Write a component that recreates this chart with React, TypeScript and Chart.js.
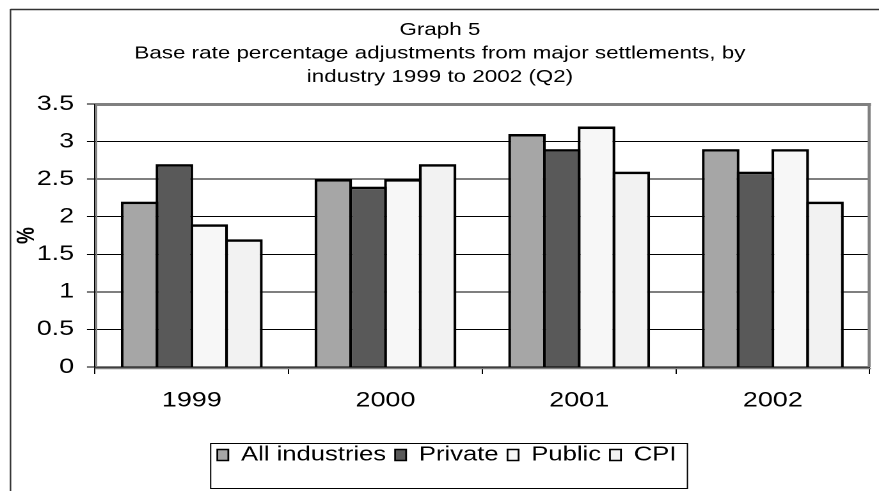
import React, { useEffect, useRef } from 'react';
import { Chart, registerables } from 'chart.js';

Chart.register(...registerables);

const categories = ['1999', '2000', '2001', '2002'];
const seriesNames = ['All industries', 'Private', 'Public', 'CPI'];
const allIndustries = [2.2, 2.5, 3.1, 2.9];
const privateSector = [2.7, 2.4, 2.9, 2.6];
const publicSector = [1.9, 2.5, 3.2, 2.9];
const cpi = [1.7, 2.7, 2.6, 2.2];
const seriesColors = ['#a6a6a6', '#595959', '#f7f7f7', '#f2f2f2'];
const titleLines = [
  'Graph 5',
  'Base rate percentage adjustments from major settlements, by',
  'industry 1999 to 2002 (Q2)',
];
const yAxisTitle = '%';
const yMin = 0;
const yMax = 3.5;
const yStep = 0.5;

const FONT = "'Liberation Sans', Arial, Helvetica, sans-serif";
const LEGEND_FONT_SIZE = 20;
const LEGEND_BOX_W = 8.6;

// The original picture is horizontally stretched; the chart is drawn on a
// narrower canvas and stretched with CSS to the 879px page width.
const CANVAS_W = 687;
const CANVAS_H = 491;
const STRETCH = 879 / CANVAS_W;

const decorPlugin = {
  id: 'decor',
  afterLayout(chart: any) {
    if (chart.legend) {
      chart.legend.left += 9.4;
      chart.legend.right += 9.4;
    }
    if (chart.titleBlock) {
      chart.titleBlock.left += 4;
      chart.titleBlock.right += 4;
    }
  },
  beforeDraw(chart: any) {
    const { ctx } = chart;
    ctx.save();
    ctx.fillStyle = '#ffffff';
    ctx.fillRect(0, 0, chart.width, chart.height);
    ctx.restore();
  },
  beforeDatasetsDraw(chart: any) {
    const { ctx, chartArea: a } = chart;
    ctx.save();
    ctx.strokeStyle = '#808080';
    ctx.lineWidth = 3;
    ctx.beginPath();
    ctx.moveTo(a.left, a.top + 0.5);
    ctx.lineTo(a.right + 1, a.top + 0.5);
    ctx.stroke();
    ctx.lineWidth = 2.3;
    ctx.beginPath();
    ctx.moveTo(a.right - 0.4, a.top - 1);
    ctx.lineTo(a.right - 0.4, a.bottom);
    ctx.stroke();
    ctx.lineWidth = 1.2;
    ctx.beginPath();
    ctx.moveTo(a.left + 1.2, a.top + 2);
    ctx.lineTo(a.left + 1.2, a.bottom);
    ctx.stroke();
    ctx.lineWidth = 1.5;
    ctx.beginPath();
    ctx.moveTo(a.left, a.bottom + 1.5);
    ctx.lineTo(a.right + 1, a.bottom + 1.5);
    ctx.stroke();
    ctx.restore();
  },
  afterDraw(chart: any) {
    const { ctx } = chart;
    ctx.save();
    // outer frame (top and left edges)
    ctx.strokeStyle = '#333333';
    ctx.lineWidth = 1.5;
    ctx.beginPath();
    ctx.moveTo(chart.width + 2, 9.5);
    ctx.lineTo(8.2, 9.5);
    ctx.stroke();
    ctx.lineWidth = 1.2;
    ctx.beginPath();
    ctx.moveTo(8.2, 9);
    ctx.lineTo(8.2, chart.height + 2);
    ctx.stroke();
    // legend border
    const lg = chart.legend;
    if (lg && lg.legendHitBoxes && lg.legendHitBoxes.length && lg.legendItems) {
      const hb = lg.legendHitBoxes;
      const first = hb[0];
      const last = hb[hb.length - 1];
      ctx.font = `${LEGEND_FONT_SIZE}px ${FONT}`;
      const lastText = lg.legendItems[lg.legendItems.length - 1].text;
      const textEnd = last.left + LEGEND_BOX_W + LEGEND_FONT_SIZE / 2 + ctx.measureText(lastText).width;
      const cy = first.top + first.height / 2;
      const x0 = first.left - 5.2;
      const x1 = textEnd + 8.6;
      ctx.strokeStyle = '#000000';
      ctx.lineWidth = 1;
      ctx.strokeRect(x0, Math.round(cy - 12) + 0.5, x1 - x0, 45);
    }
    ctx.restore();
  },
};

export default function App() {
  const canvasRef = useRef<HTMLCanvasElement | null>(null);

  useEffect(() => {
    const canvas = canvasRef.current;
    if (!canvas) return;
    const values = [allIndustries, privateSector, publicSector, cpi];
    const chart = new Chart(canvas, {
      type: 'bar',
      data: {
        labels: categories,
        datasets: seriesNames.map((name, i) => ({
          label: name,
          data: values[i],
          backgroundColor: seriesColors[i],
          borderColor: '#000000',
          borderWidth: { top: 2.6, left: 2.2, right: 2.2, bottom: 0 },
          borderSkipped: false,
          categoryPercentage: 0.718,
          barPercentage: 1.08,
        })),
      },
      options: {
        responsive: false,
        animation: false,
        devicePixelRatio: 2,
        layout: { padding: { left: 0, right: 7.3, top: 0, bottom: 16 } },
        plugins: {
          tooltip: { enabled: false },
          title: {
            display: true,
            text: titleLines,
            color: '#000000',
            font: { family: FONT, size: 17.5, weight: 'normal', lineHeight: '23.5px' },
            padding: { top: 18.25, bottom: 15.25 },
          },
          legend: {
            display: true,
            position: 'bottom',
            labels: {
              color: '#000000',
              font: { family: FONT, size: LEGEND_FONT_SIZE },
              boxWidth: LEGEND_BOX_W,
              boxHeight: 11,
              padding: 7,
              generateLabels(ch: any) {
                const items = (Chart as any).defaults.plugins.legend.labels.generateLabels(ch);
                items.forEach((it: any) => {
                  it.lineWidth = 1.4;
                  it.strokeStyle = '#000000';
                });
                return items;
              },
            },
          },
        },
        scales: {
          x: {
            grid: {
              display: true,
              drawOnChartArea: false,
              drawTicks: true,
              tickLength: 7,
              color: '#000000',
              offset: true,
            },
            border: { display: true, color: '#000000', width: 1.2 },
            ticks: {
              color: '#000000',
              font: { family: FONT, size: 21 },
              padding: 14,
              maxRotation: 0,
            },
            afterFit(scale: any) {
              scale.height = 71;
            },
          },
          y: {
            min: yMin,
            max: yMax,
            grid: {
              color: (c: any) => (c.tick && c.tick.value === yMax ? 'rgba(0,0,0,0)' : '#000000'),
              tickColor: '#000000',
              tickLength: 6.25,
              lineWidth: 1,
            },
            border: { display: true, color: '#000000', width: 1.1 },
            ticks: {
              stepSize: yStep,
              color: '#000000',
              font: { family: FONT, size: 21 },
              padding: 10,
              callback: (v: any) => String(v),
            },
            title: {
              display: true,
              text: yAxisTitle,
              color: '#000000',
              font: { family: FONT, size: 19, weight: 'bold' },
              padding: { top: 10, bottom: 0 },
            },
            afterFit(scale: any) {
              scale.width = 74.2;
            },
          },
        },
      },
      plugins: [decorPlugin],
    });
    return () => chart.destroy();
  }, []);

  return (
    <div
      style={{
        position: 'absolute',
        left: 0,
        top: 0,
        width: CANVAS_W,
        height: CANVAS_H,
        transform: `scaleX(${STRETCH})`,
        transformOrigin: '0 0',
      }}
    >
      <canvas ref={canvasRef} width={CANVAS_W} height={CANVAS_H} />
    </div>
  );
}
